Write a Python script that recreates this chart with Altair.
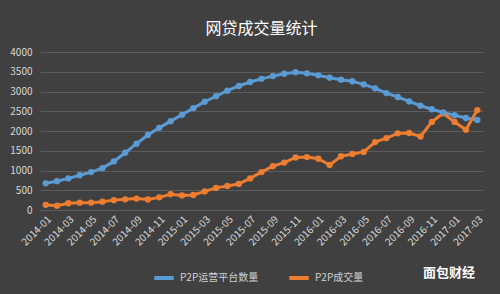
import altair as alt
import pandas as pd

months = [f"{y}-{m:02d}" for y in (2014, 2015, 2016, 2017) for m in range(1, 13)][:39]

platforms = [675, 730, 800, 880, 960, 1060, 1230, 1450, 1680, 1900,
             2080, 2250, 2410, 2580, 2740, 2880, 3020, 3140, 3240, 3320,
             3390, 3450, 3490, 3460, 3410, 3350, 3300, 3260, 3180, 3080,
             2960, 2860, 2750, 2640, 2550, 2470, 2400, 2330, 2280]

volume = [130, 110, 170, 185, 185, 210, 250, 270, 290, 265,
          320, 400, 370, 380, 470, 560, 610, 660, 800, 960,
          1110, 1200, 1330, 1340, 1300, 1140, 1360, 1420, 1470, 1720,
          1820, 1940, 1950, 1860, 2230, 2450, 2230, 2030, 2530]

series_names = ["P2P运营平台数量", "P2P成交量"]
series_colors = ["#5b9bd5", "#ed7d31"]
y_ticks = [0, 500, 1000, 1500, 2000, 2500, 3000, 3500, 4000]

rows = []
for i, m in enumerate(months):
    rows.append({"month": m, "series": series_names[0], "value": platforms[i]})
    rows.append({"month": m, "series": series_names[1], "value": volume[i]})
df = pd.DataFrame(rows)

FONT = "Noto Sans CJK SC"

lines = alt.Chart(df).mark_line(
    strokeWidth=3,
    point=alt.OverlayMarkDef(size=40, filled=True, opacity=1),
).encode(
    x=alt.X("month:O", sort=months,
            scale=alt.Scale(type="point", padding=0.5),
            axis=alt.Axis(values=months[::2], title=None, labelAngle=-45,
                          labelColor="#d8d8d8", labelFontSize=10, labelFont=FONT,
                          ticks=False, domain=False, grid=False, labelPadding=4)),
    y=alt.Y("value:Q", scale=alt.Scale(domain=[0, 4000], nice=False),
            axis=alt.Axis(values=y_ticks, format="d", title=None, labelColor="#d8d8d8",
                          labelFontSize=10, labelFont=FONT, ticks=False,
                          domain=False, grid=True, gridColor="#5c5c5c",
                          gridWidth=1, labelPadding=8)),
    color=alt.Color("series:N", sort=series_names,
                    scale=alt.Scale(domain=series_names, range=series_colors),
                    legend=alt.Legend(title=None, orient="none", direction="horizontal",
                                      legendX=112, legendY=214,
                                      symbolType="stroke", symbolSize=380,
                                      symbolStrokeWidth=4, labelColor="#d0d0d0",
                                      labelFontSize=10, labelFont=FONT,
                                      columnPadding=22)),
    order=alt.Order("series:N"),
)

brand = alt.Chart(pd.DataFrame({"t": ["面包财经"]})).mark_text(
    font=FONT, fontSize=13, fontWeight="bold", color="#ffffff", align="left", baseline="middle"
).encode(text="t:N", x=alt.value(383), y=alt.value(221))

chart = alt.layer(lines, brand).properties(
    width=443, height=158,
    background="#404040",
    padding={"left": 40, "top": 52, "right": 17, "bottom": 84},
    autosize=alt.AutoSizeParams(type="none"),
    title=alt.Title("网贷成交量统计", font=FONT, fontSize=16, color="#ffffff",
                    fontWeight="normal", anchor="middle", offset=10),
).configure_view(stroke=None)

chart.save("out.html", embed_options={"renderer": "svg", "actions": False})
